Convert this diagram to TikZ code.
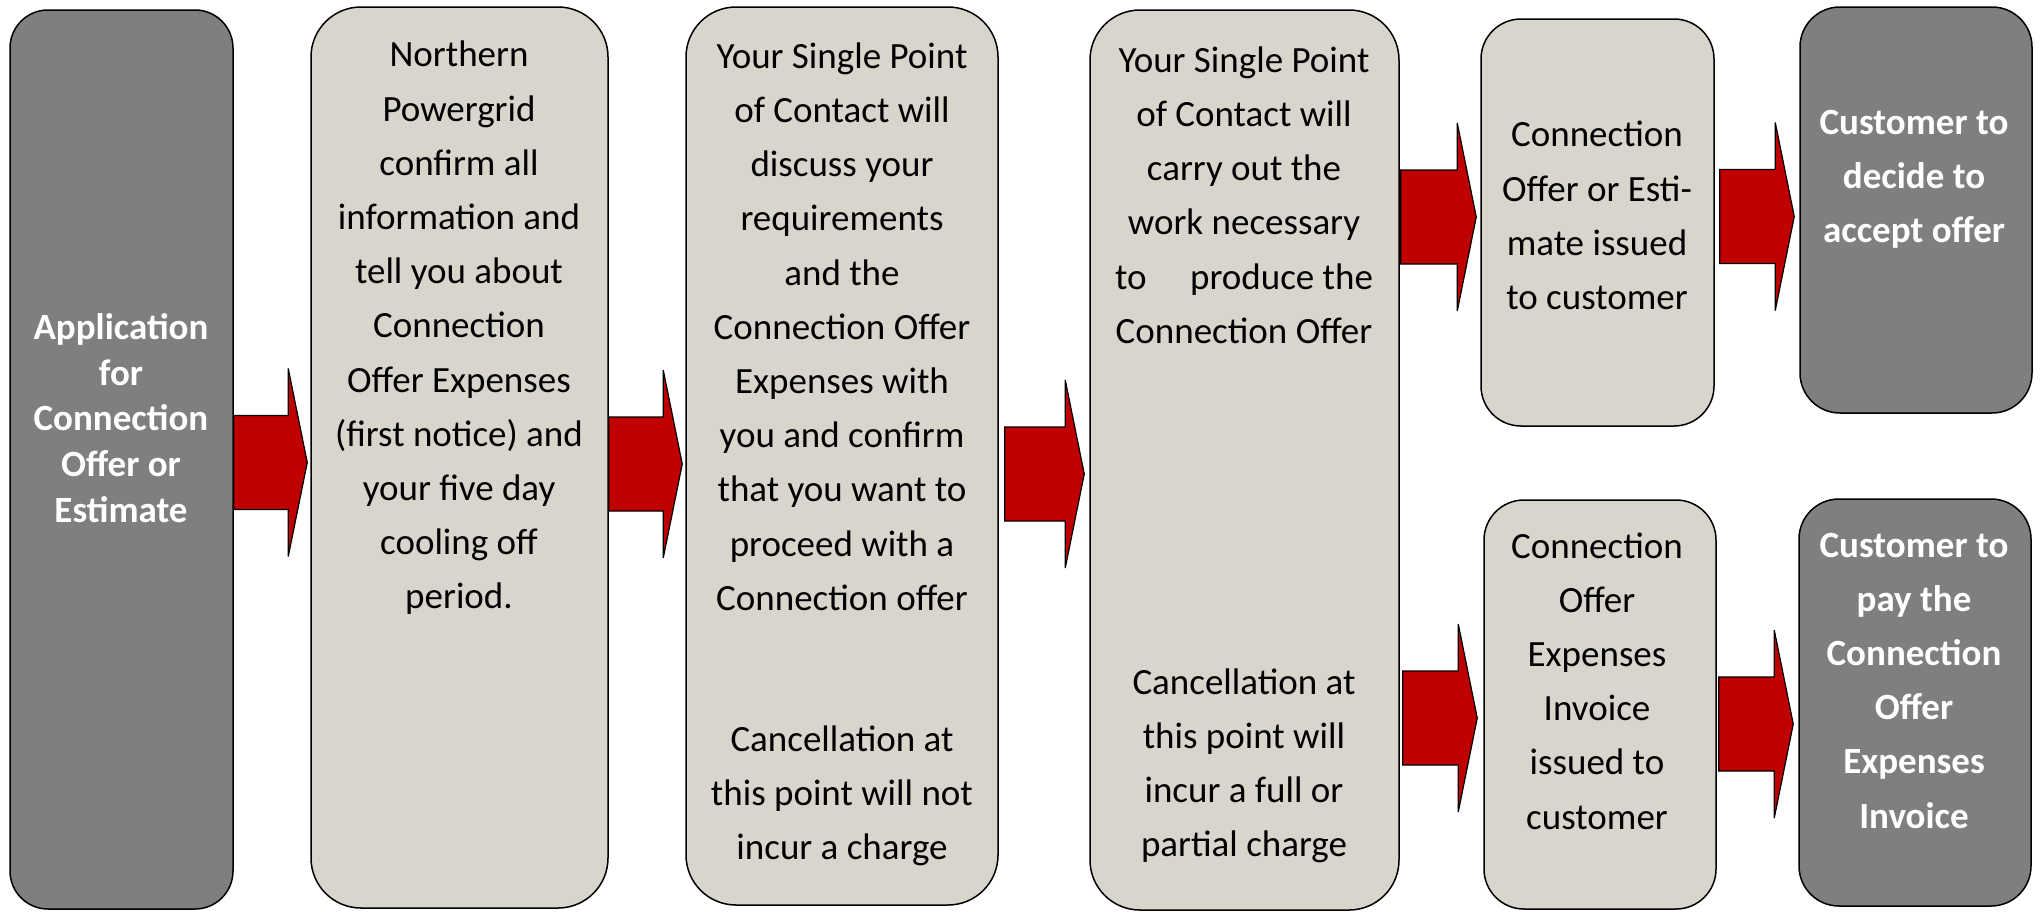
\documentclass[tikz,border=0pt]{standalone}
\usepackage{fontspec}
\setmainfont{Carlito}
\usetikzlibrary{calc}
\definecolor{boxdark}{HTML}{7F7F7F}
\definecolor{boxlight}{HTML}{D8D5CD}
\definecolor{arrowred}{HTML}{C00000}
\tikzset{
  boxbase/.style={draw=black, line width=1.5pt, inner sep=0pt, rectangle},
  darkbox/.style={boxbase, fill=boxdark},
  lightbox/.style={boxbase, fill=boxlight},
  bodytext/.style={align=center, font=\fontsize{37}{54.2}\selectfont, text=black, inner sep=0pt},
  headtext/.style={align=center, font=\fontsize{37}{54.2}\selectfont\bfseries, text=white, inner sep=0pt},
  arrowshape/.style={fill=arrowred, draw=black, line width=1.2pt, line join=miter},
}
% #1 from node, #2 to node, #3 y centre, #4 start gap, #5 end gap
\newcommand\flowarrow[5]{%
  \coordinate (ay) at (0,#3);
  \coordinate (as) at ($(#1.east |- ay)+(#4,0)$);
  \coordinate (at) at ($(#2.west |- ay)+(-#5,0)$);
  \draw[arrowshape] ($(as)+(0,-47)$) -- ($(at)+(-19,-47)$) -- ($(at)+(-19,-94)$) -- (at)
     -- ($(at)+(-19,94)$) -- ($(at)+(-19,47)$) -- ($(as)+(0,47)$) -- cycle;
}
\begin{document}
\begin{tikzpicture}[x=1pt,y=-1pt]
\fill[white] (0,0) rectangle (2043,911);
\useasboundingbox (0,0) rectangle (2043,911);

% boxes
\node[darkbox, rounded corners=38pt, minimum width=223pt, minimum height=899pt] (b1) at (121.5,459.5) {};
\node[lightbox, rounded corners=50pt, minimum width=297pt, minimum height=901pt] (b2) at (459.5,457.5) {};
\node[lightbox, rounded corners=50pt, minimum width=312pt, minimum height=898pt] (b3) at (842,456) {};
\node[lightbox, rounded corners=50pt, minimum width=309pt, minimum height=900pt] (b4) at (1244.5,460) {};
\node[lightbox, rounded corners=40pt, minimum width=233pt, minimum height=407pt] (b5) at (1597.5,222.5) {};
\node[darkbox, rounded corners=40pt, minimum width=232pt, minimum height=406pt] (b6) at (1916,210) {};
\node[lightbox, rounded corners=40pt, minimum width=232pt, minimum height=409pt] (b7) at (1600,704.5) {};
\node[darkbox, rounded corners=40pt, minimum width=232pt, minimum height=407pt] (b8) at (1915,702.5) {};

% texts
\node[headtext, font=\fontsize{37}{45.6}\selectfont\bfseries] (t1) at (121,418)
  {Application\\for\\Connection\\Offer or\\Estimate};
\node[bodytext] (t2) at (459,328)
  {Northern\\Powergrid\\confirm all\\information and\\tell you about\\Connection\\Offer Expenses\\(first notice) and\\your five day\\cooling off\\period.};
\node[bodytext] (t3a) at (842,326.5)
  {Your Single Point\\of Contact will\\discuss your\\requirements\\and the\\Connection Offer\\Expenses with\\you and confirm\\that you want to\\proceed with a\\Connection offer};
\node[bodytext] (t3b) at (842,796)
  {Cancellation at\\this point will not\\incur a charge};
\node[bodytext] (t4a) at (1244,195)
  {Your Single Point\\of Contact will\\carry out the\\work necessary\\\hbox to 258pt{to\hfill produce the}\\Connection Offer};
\node[bodytext] (t4b) at (1244,766)
  {Cancellation at\\this point will\\incur a full or\\partial charge};
\node[bodytext] (t5) at (1597,215.5)
  {Connection\\Offer or Esti-\\mate issued\\to customer};
\node[headtext] (t6) at (1914,179)
  {Customer to\\decide to\\accept offer};
\node[bodytext] (t7) at (1597,681)
  {Connection\\Offer\\Expenses\\Invoice\\issued to\\customer};
\node[headtext] (t8) at (1914,680.5)
  {Customer to\\pay the\\Connection\\Offer\\Expenses\\Invoice};

% arrows
\flowarrow{b1}{b2}{462.5}{0}{3}
\flowarrow{b2}{b3}{464}{0}{3}
\flowarrow{b3}{b4}{474}{6}{5}
\flowarrow{b4}{b5}{217}{1}{4}
\flowarrow{b5}{b6}{216.5}{5}{5}
\flowarrow{b4}{b7}{718}{3}{6}
\flowarrow{b7}{b8}{724}{2}{5}
\end{tikzpicture}
\end{document}
